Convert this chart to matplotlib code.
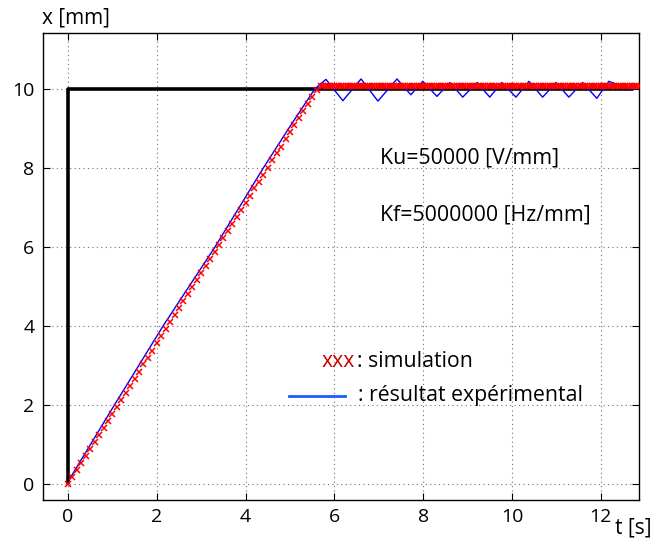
import numpy as np
import matplotlib
matplotlib.use("Agg")
import matplotlib.pyplot as plt

plt.rcParams['font.family'] = ['Open Sans', 'DejaVu Sans']

# ---- data ----
# consigne (step)
step_t = [0.0, 0.0, 12.72]
step_x = [0.0, 10.0, 10.0]

# simulation: ramp samples every 0.1 s, then plateau
sim_ramp_x = [0.00, 0.18, 0.36, 0.53, 0.71, 0.89, 1.07, 1.25, 1.42, 1.60,
              1.78, 1.96, 2.14, 2.31, 2.49, 2.67, 2.85, 3.03, 3.20, 3.38,
              3.56, 3.74, 3.92, 4.09, 4.27, 4.45, 4.63, 4.81, 4.98, 5.16,
              5.34, 5.52, 5.70, 5.87, 6.05, 6.23, 6.41, 6.59, 6.76, 6.94,
              7.12, 7.30, 7.48, 7.65, 7.83, 8.01, 8.19, 8.37, 8.54, 8.72,
              8.90, 9.08, 9.26, 9.43, 9.61, 9.79, 9.97]
sim_ramp_dt = 0.1
sim_plateau_level = 10.07
sim_plateau_start = 5.7
sim_plateau_end = 12.9
sim_plateau_dt = 0.05

# experimental result (breakpoints)
exp_t = [0.03, 1.0, 2.14, 3.31, 3.91, 4.40, 5.0, 5.56, 5.81, 6.19, 6.60, 6.98,
         7.41, 7.72, 7.99, 8.31, 8.60, 8.89, 9.21, 9.50, 9.77, 10.09, 10.38,
         10.69, 10.99, 11.28, 11.59, 11.91, 12.18, 12.72]
exp_x = [0.12, 1.92, 4.00, 6.00, 7.10, 8.00, 9.05, 10.0, 10.24, 9.70, 10.25,
         9.69, 10.25, 9.85, 10.19, 9.81, 10.16, 9.79, 10.16, 9.79, 10.16, 9.79,
         10.19, 9.79, 10.16, 9.79, 10.16, 9.76, 10.19, 9.97]

xticks = [0, 2, 4, 6, 8, 10, 12]
yticks = [0, 2, 4, 6, 8, 10]

# ---- figure ----
fig = plt.figure(figsize=(6.55, 5.44), dpi=100)
ax = fig.add_axes([42.7 / 655, 1 - 500 / 544, (639 - 42.7) / 655, (500 - 32.7) / 544])

plateau_t = np.arange(sim_plateau_start, sim_plateau_end, sim_plateau_dt)
sim_t = np.concatenate([np.arange(len(sim_ramp_x)) * sim_ramp_dt, plateau_t])
sim_x = np.concatenate([np.array(sim_ramp_x),
                        np.full(len(plateau_t), sim_plateau_level)])

ax.plot(step_t, step_x, color='black', lw=2.6, solid_capstyle='butt', zorder=3)
ax.plot(exp_t, exp_x, color='#0000ff', lw=1.0, zorder=4)
ax.plot(sim_t, sim_x, linestyle='none', marker='x', color='#ff0000',
        markersize=4.6, markeredgewidth=1.1, zorder=5)

ax.set_xlim(-0.57, 12.86)
ax.set_ylim(-0.4, 11.42)
ax.set_xticks(xticks)
ax.set_yticks(yticks)
ax.tick_params(direction='in', top=True, right=True, length=5, width=0.8,
               labelsize=14, pad=6)
ax.grid(True, linestyle=(0, (1, 3)), color='#707070', linewidth=0.8)
for s in ax.spines.values():
    s.set_linewidth(1.0)

fs = 15.3
ax.text(7.02, 8.25, 'Ku=50000 [V/mm]', fontsize=fs, va='center', ha='left')
ax.text(7.02, 6.81, 'Kf=5000000 [Hz/mm]', fontsize=fs, va='center', ha='left')

ax.text(5.72, 3.1, 'xxx', color='#cc0000', fontsize=fs, va='center', ha='left')
ax.text(6.51, 3.1, ': simulation', fontsize=fs, va='center', ha='left')
ax.plot([4.98, 6.24], [2.23, 2.23], color='#1a5cff', lw=2.0, zorder=6)
ax.text(6.53, 2.25, ': résultat expérimental', fontsize=fs, va='center', ha='left')

fig.text(42 / 655, 1 - 18 / 544, 'x [mm]', fontsize=15, va='center', ha='left')
fig.text(615 / 655, 1 - 528 / 544, 't [s]', fontsize=15, va='center', ha='left')

fig.savefig('out.png', dpi=100)
